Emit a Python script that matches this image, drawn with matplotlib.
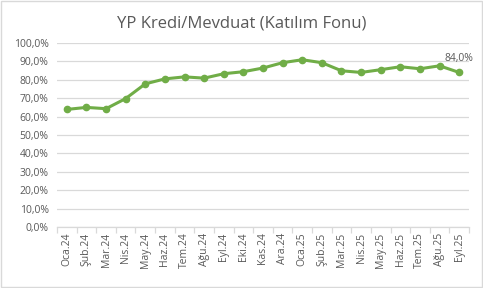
import matplotlib
matplotlib.use("Agg")
import matplotlib.pyplot as plt
from matplotlib.ticker import FuncFormatter, FixedLocator

months = ["Oca.24", "Şub.24", "Mar.24", "Nis.24", "May.24", "Haz.24", "Tem.24",
          "Ağu.24", "Eyl.24", "Eki.24", "Kas.24", "Ara.24", "Oca.25", "Şub.25",
          "Mar.25", "Nis.25", "May.25", "Haz.25", "Tem.25", "Ağu.25", "Eyl.25"]
ratio = [63.9, 65.0, 64.3, 69.8, 77.8, 80.5, 81.6, 80.9, 83.3, 84.4, 86.4,
         89.3, 90.9, 89.3, 84.9, 84.0, 85.5, 87.1, 86.0, 87.6, 84.0]
yticks = [0, 10, 20, 30, 40, 50, 60, 70, 80, 90, 100]

GREEN, TXT, GRID = "#70AD47", "#595959", "#D9D9D9"
plt.rcParams["font.family"] = ["Open Sans", "DejaVu Sans"]

fig = plt.figure(figsize=(4.83, 2.88), dpi=100)
ax = fig.add_axes([57 / 483, 1 - 227 / 288, 412 / 483, 184 / 288])

x = list(range(len(months)))
ax.plot(x, ratio, color=GREEN, lw=2.2, marker="o", ms=4.5, zorder=3)
ax.annotate(f"{ratio[-1]:.1f}%".replace(".", ","), (x[-1], ratio[-1]),
            xytext=(0, 6), textcoords="offset points", ha="center", va="bottom",
            fontsize=7.5, color=TXT)

ax.set_xlim(-0.5, len(months) - 0.5)
ax.set_ylim(0, 100)
ax.set_yticks(yticks)
ax.yaxis.set_major_formatter(FuncFormatter(lambda v, p: f"{v:.1f}%".replace(".", ",")))
ax.grid(axis="y", color=GRID, lw=0.9)
ax.set_axisbelow(True)
for s in ("top", "right", "left"):
    ax.spines[s].set_visible(False)
ax.spines["bottom"].set_color(GRID)
ax.spines["bottom"].set_linewidth(0.9)

ax.set_xticks(x)
ax.set_xticklabels(months, rotation=90)
ax.xaxis.set_minor_locator(FixedLocator([i - 0.5 for i in range(len(months) + 1)]))
ax.tick_params(axis="x", which="major", length=0, pad=4, labelsize=7.5, labelcolor=TXT)
ax.tick_params(axis="x", which="minor", length=4, color=GRID, width=0.9)
ax.tick_params(axis="y", length=0, pad=6, labelsize=7.5, labelcolor=TXT)

fig.text(0.5, 0.92, "YP Kredi/Mevduat (Katılım Fonu)", ha="center", va="center",
         fontsize=12, color=TXT)

fig.patches.append(plt.Rectangle((0.002, 0.003), 0.995, 0.994, transform=fig.transFigure,
                                 fill=False, edgecolor=GRID, lw=1))
fig.savefig("out.png", dpi=100)
